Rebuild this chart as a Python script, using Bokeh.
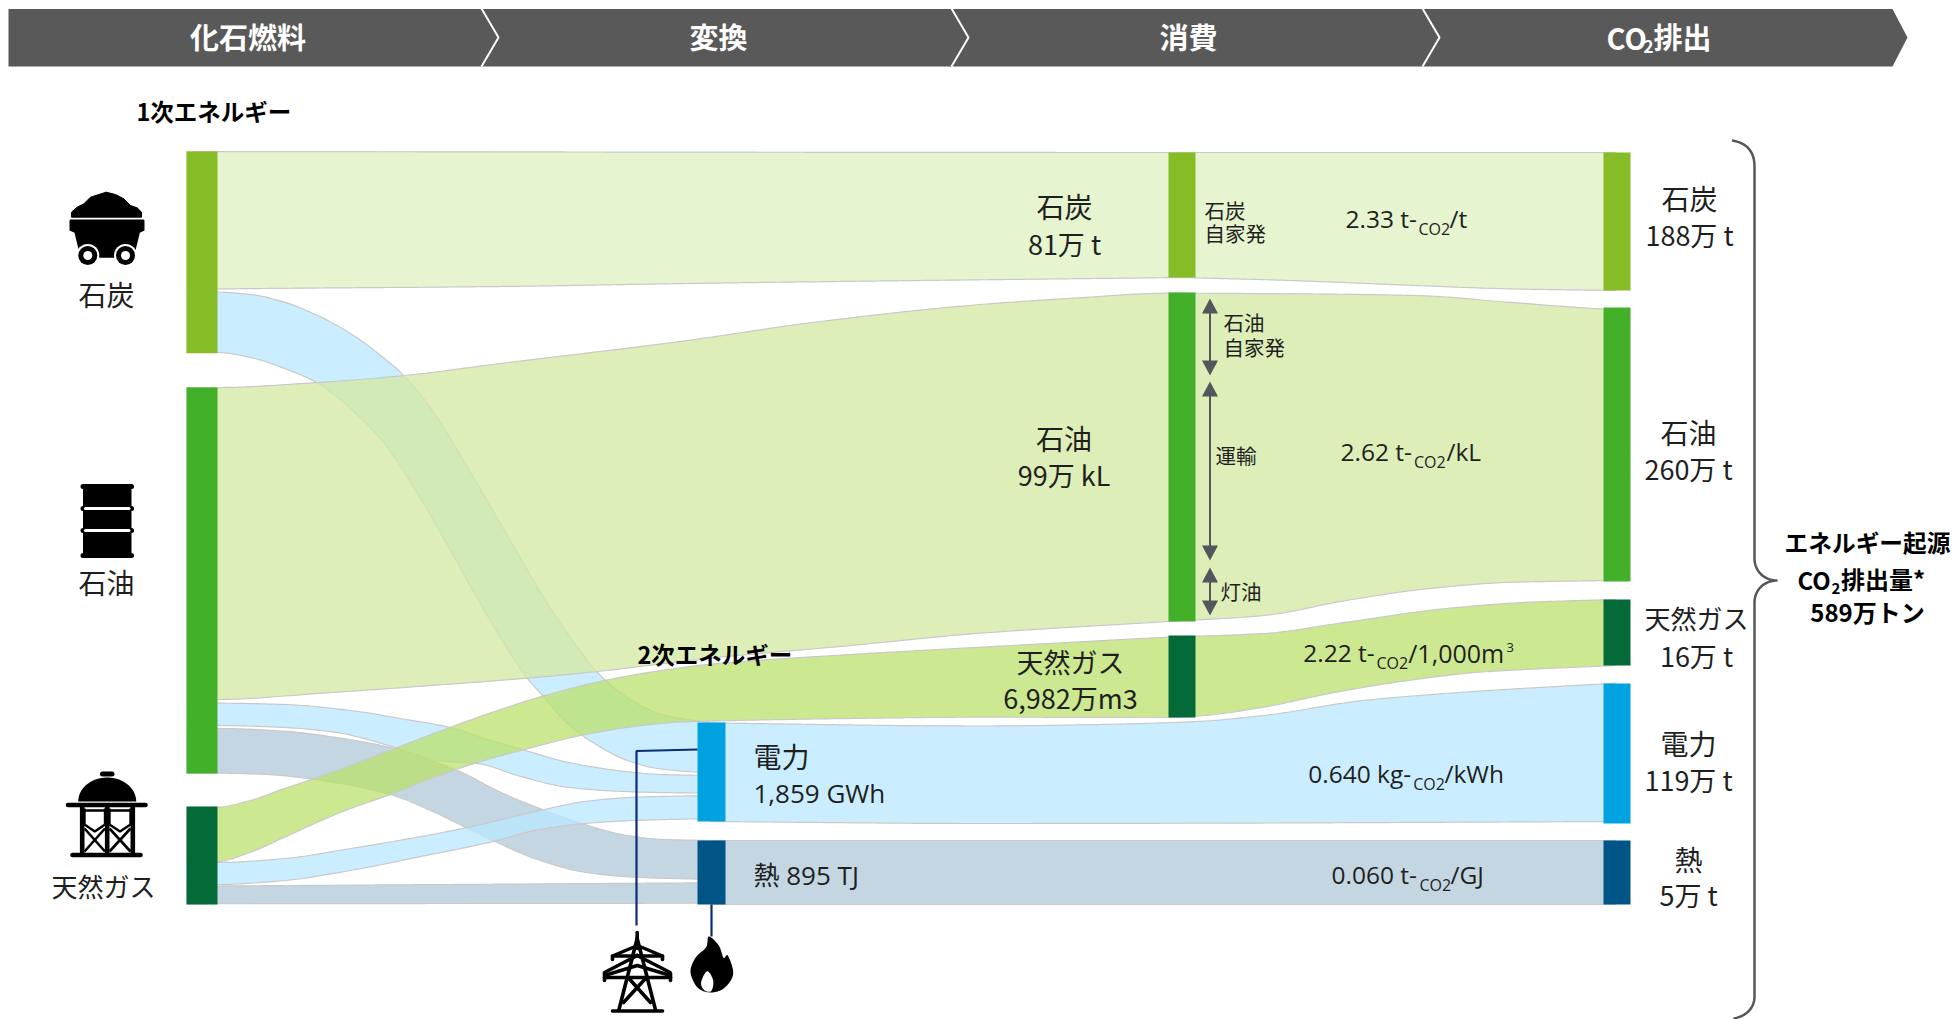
import numpy as np
from bokeh.core.properties import value
from bokeh.embed import file_html
from bokeh.models import Range1d
from bokeh.plotting import figure
from bokeh.resources import INLINE

# ---------- chart content ----------
STAGES = ["化石燃料", "変換", "消費"]
STAGE_CO2 = ["CO", "2", "排出"]
PRIMARY_TITLE = "1次エネルギー"
SECONDARY_TITLE = "2次エネルギー"
FUELS = ["石炭", "石油", "天然ガス"]
CONSUMED = ["81万 t", "99万 kL", "6,982万m3"]
EMITTERS = ["石炭", "石油", "天然ガス", "電力", "熱"]
EMISSIONS = ["188万 t", "260万 t", "16万 t", "119万 t", "5万 t"]
POWER_NAME = "電力"
POWER_AMOUNT = "1,859 GWh"
HEAT_AMOUNT = "熱 895 TJ"
USES = ["石炭", "自家発", "石油", "自家発", "運輸", "灯油"]
RATE_HEADS = ["2.33 t-", "2.62 t-", "2.22 t-", "0.640 kg-", "0.060 t-"]
RATE_TAILS = ["/t", "/kL", "/1,000m", "/kWh", "/GJ"]
TOTAL_LINES = ["エネルギー起源", "CO", "2", "排出量*", "589万トン"]

# Band outlines: (x, y) samples of each ribbon's two edges
COAL_TOP = [(186, 151), (1168, 152), (1615, 152)]
COAL_BOT_A = [(186, 289), (217, 288.5), (500, 286), (707, 282.7), (980, 279.3), (1182, 277)]
COAL_BOT_B = [(1182, 277), (1290, 280), (1415, 285), (1508, 288.3), (1615, 290)]
OIL_TOP = [(186, 387), (217, 387), (317, 382), (404, 375), (500, 363), (687, 340), (812, 322), (980, 304),
           (1073, 297.7), (1168, 292.7), (1290, 293.3), (1415, 295), (1508, 301.7), (1603, 308.5), (1615, 309)]
OIL_BOT = [(186, 699), (217, 699), (317, 693), (417, 686), (527, 677.7), (597, 671), (707, 658), (850, 645),
           (980, 632.7), (1168, 621), (1263, 615), (1346, 600), (1429, 588), (1513, 581.7), (1615, 580)]
GAS_TOP = [(186, 807), (217, 806.7), (250, 800), (284, 788), (314, 778), (350, 765), (407, 743), (450, 726.7),
           (497, 710), (542, 695.7), (604, 680), (650, 671.7), (707, 664), (850, 654), (980, 646.7), (1073, 641.7),
           (1168, 636.7), (1263, 633), (1346, 621.7), (1446, 608), (1529, 601.7), (1615, 599)]
GAS_BOT = [(186, 861.5), (217, 861), (250, 851.7), (284, 836.7), (317, 821.7), (350, 808), (390, 794), (434, 776.7),
           (477, 762), (524, 749), (585, 734), (634, 726), (677, 721.7), (707, 720.7), (850, 718), (980, 716.7),
           (1168, 717), (1196, 715.7), (1263, 706.7), (1329, 693), (1396, 681.7), (1479, 671.7), (1615, 665)]
COAL_ELEC_TOP = [(186, 291.7), (217, 291.7), (250, 294), (284, 301.7), (317, 315), (350, 333), (384, 358), (404, 375.7),
                 (434, 413), (467, 467), (500, 523), (545, 600), (570, 637), (597, 672), (627, 697), (664, 715), (710, 722)]
COAL_ELEC_BOT = [(186, 352), (217, 352), (250, 357), (284, 368), (316, 382), (350, 408), (384, 443), (417, 493),
                 (450, 550), (478, 600), (500, 637), (527, 678), (542, 695), (567, 723), (594, 743), (627, 760),
                 (657, 768), (710, 772.7)]
OIL_ELEC_TOP = [(186, 702.7), (217, 702.7), (284, 704), (350, 710), (400, 718), (450, 727), (484, 738), (525, 750),
                (567, 761.7), (617, 770), (660, 774), (710, 775)]
OIL_ELEC_BOT = [(186, 725), (217, 725), (284, 727), (334, 731.7), (394, 746.7), (437, 760), (479, 763.3), (517, 775),
                (567, 786.7), (617, 790.7), (657, 792), (710, 792.7)]
OIL_HEAT_TOP = [(186, 728), (217, 728), (284, 730.7), (334, 736.7), (394, 748), (457, 770), (500, 791.7), (542, 809),
                (584, 824), (627, 835), (664, 839), (710, 840)]
OIL_HEAT_BOT = [(186, 772.7), (217, 772.7), (267, 774), (314, 779), (390, 794), (430, 810), (467, 827.7), (494, 840.7),
                (534, 858), (584, 871.7), (634, 876.7), (710, 879)]
GAS_ELEC_TOP = [(186, 862), (217, 862), (284, 858), (350, 848), (417, 836.7), (467, 827), (544, 809), (584, 801),
                (634, 796.7), (710, 795)]
GAS_ELEC_BOT = [(186, 884), (217, 884), (284, 880), (350, 870), (417, 856.7), (494, 840.7), (534, 830), (584, 823),
                (634, 820), (710, 818)]
GAS_HEAT_TOP = [(186, 885.7), (710, 882.3)]
GAS_HEAT_BOT = [(186, 903.3), (710, 902.7)]
ELEC_TOP = [(710, 722.5), (980, 725.5), (1100, 724), (1196, 721), (1263, 715), (1363, 700), (1463, 691.7), (1615, 682.7)]
ELEC_BOT = [(710, 821), (980, 823), (1196, 822.7), (1615, 821)]
HEAT_TOP = [(710, 840), (1615, 840)]
HEAT_BOT = [(710, 904), (1615, 904)]

# ---------- palette ----------
COL_COAL, COL_OIL, COL_GAS, COL_ELEC, COL_HEAT = "#86BC25", "#43B02A", "#046A38", "#00A3E0", "#005587"
HEADER = "#595959"
INK = "#1F1F1F"
SLATE = "#53565A"
NAVY = "#0A2D73"
JP = "Noto Sans CJK JP"
LAT = "Open Sans, Noto Sans CJK JP"
ALPHA = 0.75

def veil(rgb):
    """Colour which, at ALPHA over white, shows as rgb."""
    return tuple(int(round((c - (1 - ALPHA) * 255) / ALPHA)) for c in rgb)

W_COAL, W_OIL, W_GAS = veil((230, 244, 207)), veil((222, 238, 184)), veil((204, 232, 144))
W_ELEC, W_HEAT = veil((202, 238, 255)), veil((196, 214, 226))

p = figure(width=1954, height=1019, x_range=Range1d(0, 1954), y_range=Range1d(1019, 0),
           x_axis_location=None, y_axis_location=None, toolbar_location=None,
           output_backend="svg", min_border=0, outline_line_color=None, background_fill_color="white")
p.grid.visible = False


def smooth(pts, step=3.0):
    """Monotone cubic through the read points."""
    xs, ys = np.array(pts, float).T
    h = np.diff(xs)
    d = np.diff(ys) / h
    m = np.zeros_like(xs)
    m[0], m[-1] = d[0], d[-1]
    for i in range(1, len(xs) - 1):
        if d[i - 1] * d[i] > 0:
            w1, w2 = 2 * h[i] + h[i - 1], h[i] + 2 * h[i - 1]
            m[i] = (w1 + w2) / (w1 / d[i - 1] + w2 / d[i])
    ox, oy = [], []
    for i in range(len(xs) - 1):
        n = max(2, int(h[i] / step))
        t = np.linspace(0, 1, n, endpoint=False)
        ox.extend(xs[i] + t * h[i])
        oy.extend((2*t**3 - 3*t**2 + 1) * ys[i] + (t**3 - 2*t**2 + t) * h[i] * m[i]
                  + (-2*t**3 + 3*t**2) * ys[i + 1] + (t**3 - t**2) * h[i] * m[i + 1])
    ox.append(xs[-1]); oy.append(ys[-1])
    return np.array(ox), np.array(oy)


def band(top_segments, bot_segments, colour):
    tops = [smooth(s) for s in top_segments]
    bots = [smooth(s) for s in bot_segments]
    tx = np.concatenate([a[0] for a in tops]); ty = np.concatenate([a[1] for a in tops])
    bx = np.concatenate([a[0] for a in bots]); by = np.concatenate([a[1] for a in bots])
    p.patch(np.r_[tx, bx[::-1]], np.r_[ty, by[::-1]], fill_color=colour, fill_alpha=ALPHA, line_color=None)
    p.line(tx, ty, line_color="#C9C9C9", line_width=1.2)
    p.line(bx, by, line_color="#C9C9C9", line_width=1.2)


# ---------- ribbons (heat and power underneath, fuels on top) ----------
band([HEAT_TOP], [HEAT_BOT], W_HEAT)
band([GAS_HEAT_TOP], [GAS_HEAT_BOT], W_HEAT)
band([OIL_HEAT_TOP], [OIL_HEAT_BOT], W_HEAT)
band([ELEC_TOP], [ELEC_BOT], W_ELEC)
band([GAS_ELEC_TOP], [GAS_ELEC_BOT], W_ELEC)
band([OIL_ELEC_TOP], [OIL_ELEC_BOT], W_ELEC)
band([COAL_ELEC_TOP], [COAL_ELEC_BOT], W_ELEC)
band([COAL_TOP], [COAL_BOT_A, COAL_BOT_B], W_COAL)
band([OIL_TOP], [OIL_BOT], W_OIL)
band([GAS_TOP], [GAS_BOT], W_GAS)

# ---------- nodes ----------
node_left = [186, 186, 186, 697, 697, 1168, 1168, 1168, 1603, 1603, 1603, 1603, 1603]
node_right = [217, 217, 217, 725, 725, 1195, 1195, 1195, 1630, 1630, 1630, 1630, 1630]
node_top = [151, 387, 806, 722, 840, 152, 292, 635, 152, 307, 599, 683, 840]
node_bot = [352.7, 773, 904, 821, 904, 277, 621, 717, 290, 581, 665, 823, 904]
node_col = [COL_COAL, COL_OIL, COL_GAS, COL_ELEC, COL_HEAT, COL_COAL, COL_OIL, COL_GAS,
            COL_COAL, COL_OIL, COL_GAS, COL_ELEC, COL_HEAT]
p.quad(left=node_left, right=node_right, top=node_top, bottom=node_bot, fill_color=node_col, line_color=None)

# ---------- header ----------
p.patch([8, 1892, 1907, 1892, 8], [8.5, 8.5, 37, 66, 66], fill_color=HEADER, line_color=None)
for tipx in (498, 968, 1439):
    p.line([tipx - 17, tipx, tipx - 17], [8, 37, 66], line_color="white", line_width=2)


def T(x, y, s, size, align="center", bold=False, color=INK, font=JP):
    p.text(x=[x], y=[y - 1], text=[s], text_font=value(font), text_font_size=f"{size}px", text_align=align,
           text_baseline="middle", text_color=color, text_font_style="bold" if bold else "normal")


for cx, s in zip((247.5, 718, 1188), STAGES):
    T(cx, 36, s, 29, bold=True, color="white")
T(1606, 37, STAGE_CO2[0], 29, "left", True, "white")
T(1643, 47, STAGE_CO2[1], 17, "left", True, "white")
T(1653, 36, STAGE_CO2[2], 29, "left", True, "white")

T(136, 111, PRIMARY_TITLE, 23.5, "left", True, "black")
T(637, 654.5, SECONDARY_TITLE, 23.5, "left", True, "black")

# ---------- fuel labels ----------
T(106, 294, FUELS[0], 28)
T(106, 582, FUELS[1], 28)
T(103, 886, FUELS[2], 26)

for (x, y1, y2), n, a, sz in zip([(1064, 206, 244), (1063.5, 438, 475), (1070, 662, 698)], FUELS, CONSUMED, (28, 28, 27)):
    T(x, y1, n, sz)
    T(x, y2, a, 27)

for (x, y1, y2), n, a in zip([(1689, 198, 235), (1688, 432, 469), (1696, 618, 656), (1688, 743, 780), (1688, 859, 895)],
                             EMITTERS, EMISSIONS):
    T(x, y1, n, 26 if n == "天然ガス" else 28)
    T(x, y2, a, 27)

T(753, 756, POWER_NAME, 28, "left")
T(753, 793, POWER_AMOUNT, 26, "left", font=LAT)
T(753, 875, HEAT_AMOUNT, 26, "left", font=LAT)

# ---------- uses inside the consumption column ----------
for (x, y), s in zip([(1204, 210), (1204, 233), (1223, 322), (1223, 347), (1215, 455), (1220, 591)], USES):
    T(x, y, s, 20.5, "left")


def arrow(y1, y2, x=1209.5, hw=8, hl=15):
    p.line([x, x], [y1 + 4, y2 - 4], line_color=SLATE, line_width=2)
    p.patches([[x, x - hw, x + hw], [x, x - hw, x + hw]], [[y1, y1 + hl, y1 + hl], [y2, y2 - hl, y2 - hl]],
              fill_color=SLATE, line_color=None)


arrow(298, 375)
arrow(381, 560)
arrow(567, 615)

# ---------- emission factors ----------
rate_geom = [(1345, 1418, 1449, 219), (1340, 1413.5, 1446, 452), (1302.7, 1376, 1407.7, 653),
             (1307.7, 1412.7, 1444, 774), (1331, 1419, 1450, 875)]
for (x1, x2, x3, y), h, t in zip(rate_geom, RATE_HEADS, RATE_TAILS):
    T(x1, y, h, 24.5, "left", font=LAT)
    T(x2, y + 10.5, "CO2", 16, "left", font=LAT)
    T(x3, y, t, 25 if len(t) > 4 else 24.5, "left", font=LAT)
T(1506, 648, "3", 13, "left", font=LAT)

# ---------- brace ----------
def cubic(a, b, c, d, n=24):
    t = np.linspace(0, 1, n)[:, None]
    a, b, c, d = map(lambda v: np.array(v, float), (a, b, c, d))
    return (1-t)**3*a + 3*(1-t)**2*t*b + 3*(1-t)*t**2*c + t**3*d


brace = np.vstack([
    cubic((1731.5, 140), (1745, 142), (1754, 150), (1754, 166)),
    cubic((1754, 558), (1754, 570), (1763, 580), (1777, 580)),
    cubic((1777, 580), (1763, 580), (1754, 590), (1754, 602)),
    cubic((1754, 996), (1754, 1008), (1745, 1016), (1733, 1018)),
])
p.line(brace[:, 0], brace[:, 1], line_color=SLATE, line_width=2.5)

T(1867, 542, TOTAL_LINES[0], 23.7, bold=True, color="black")
T(1797, 580, TOTAL_LINES[1], 24, "left", True, "black")
T(1831, 589, TOTAL_LINES[2], 15, "left", True, "black")
T(1840.5, 579, TOTAL_LINES[3], 24, "left", True, "black")
T(1867, 612, TOTAL_LINES[4], 24, bold=True, color="black")

# ---------- leader lines ----------
p.line([697, 636, 636], [749, 750.5, 925], line_color=NAVY, line_width=2.2)
p.line([711, 711], [904, 936], line_color=NAVY, line_width=2.2)

# ---------- pictograms ----------
def blob(points, n=10):
    pts = np.array(points, float)
    out = []
    m = len(pts)
    for i in range(m):
        p0, p1, p2, p3 = pts[i - 1], pts[i], pts[(i + 1) % m], pts[(i + 2) % m]
        for t in np.linspace(0, 1, n, endpoint=False):
            out.append(0.5 * (2*p1 + (p2 - p0)*t + (2*p0 - 5*p1 + 4*p2 - p3)*t**2 + (3*p1 - p0 - 3*p2 + p3)*t**3))
    return np.array(out)


def zoom5(pts):
    return [40 + np.array(pts)[:, 0] / 3, 170 + np.array(pts)[:, 1] / 3]


# coal cart
pile = [(93, 140), (93, 125), (110, 110), (130, 100), (150, 80), (175, 72), (197, 65), (225, 72), (250, 85), (270, 105),
        (290, 112), (303, 125), (303, 140)]
x, y = zoom5(pile)
p.patch(x, y, fill_color="black", line_color="black", line_width=1, line_join="round")
cart = [(90, 147), (309, 147), (312, 150), (312, 180), (298, 187), (285, 240), (222, 262), (178, 262), (115, 240), (102, 187),
        (87, 180), (87, 150)]
x, y = zoom5(cart)
p.patch(x, y, fill_color="black", line_color=None)
for cx in (87.3, 125):
    p.circle(x=[cx], y=[255], radius=11.5, fill_color="white", line_color=None)
    p.circle(x=[cx], y=[255], radius=9.5, fill_color="black", line_color=None)
    p.circle(x=[cx], y=[255], radius=4.5, fill_color="white", line_color=None)

# barrel
p.quad(left=[82.5], right=[131], top=[484], bottom=[557], fill_color="black", line_color=None)
for yy in (486, 508, 530, 555):
    p.line([82.5, 131], [yy, yy], line_color="black", line_width=5, line_cap="round")
for yy in (508, 530):
    p.line([85, 128.5], [yy, yy], line_color="white", line_width=3, line_cap="round")

# gas tank
th = np.linspace(np.pi, 2 * np.pi, 40)
p.patch(106.7 + 29 * np.cos(th), 801 + 24 * np.sin(th), fill_color="black", line_color=None)
p.line([102, 111.5], [773.5, 773.5], line_color="black", line_width=5, line_cap="round")
p.line([67.5, 145], [804.5, 804.5], line_color="black", line_width=4.6, line_cap="round")
p.line([72, 140], [854.5, 854.5], line_color="black", line_width=4.6, line_cap="round")
p.multi_line([[81.7, 81.7], [106.7, 106.7], [132.3, 132.3]], [[806, 853]] * 3, line_color="black", line_width=4.6)
p.multi_line([[84, 104.5], [109, 130], [84, 84], [104.5, 104.5], [109, 109], [130, 130]],
             [[810, 810], [810, 810], [808, 824], [808, 824], [808, 824], [808, 824]],
             line_color="black", line_width=2.4)
p.multi_line([[84, 94.3, 104.5], [109, 119.5, 130]], [[824, 831, 824], [824, 831, 824]], line_color="black", line_width=2.4)
p.multi_line([[84, 104.5], [104.5, 84], [109, 130], [130, 109]], [[828, 851], [828, 851], [828, 851], [828, 851]],
             line_color="black", line_width=2.6)

# pylon
p.multi_line(
    [[636.7, 636.7], [636.7, 618.5], [636.7, 654.9], [612, 662], [612, 612], [662, 662], [636.7, 604], [636.7, 669.6],
     [604, 670], [604, 604], [670, 670], [628.5, 650], [645, 623], [612, 662]],
    [[932, 948], [938, 1009], [938, 1009], [955.5, 955.5], [955.5, 959], [955.5, 959], [955, 972], [955, 972],
     [977, 977], [973, 980], [973, 980], [978, 1002], [978, 1002], [1010.5, 1010.5]],
    line_color="black", line_width=3.6, line_cap="round")
p.multi_line([[612, 637, 662], [604, 636.7, 670]], [[955.5, 945, 955.5], [975, 965, 975]], line_color="black", line_width=3.4)

# flame
flame = blob([(355, 108), (385, 135), (399, 172), (412, 165), (428, 220), (402, 262), (362, 276), (322, 262), (300, 215),
              (315, 172), (347, 140)])
p.patch(590 + flame[:, 0] / 3, 900 + flame[:, 1] / 3, fill_color="black", line_color=None)
lick = blob([(350, 212), (368, 240), (362, 272), (340, 268), (332, 245)])
p.patch(590 + lick[:, 0] / 3, 900 + lick[:, 1] / 3, fill_color="white", line_color=None)

open("out.html", "w").write(file_html(p, INLINE))
